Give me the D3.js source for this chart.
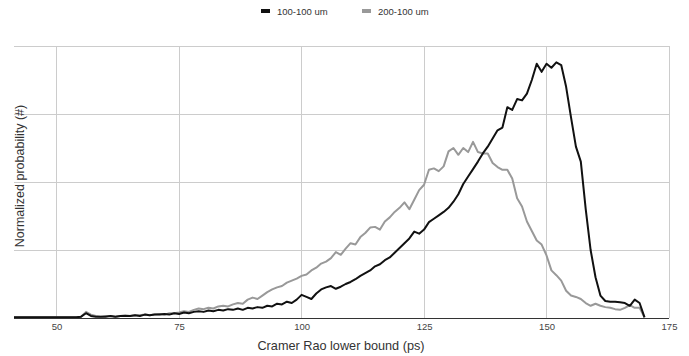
<!DOCTYPE html>
<html><head><meta charset="utf-8">
<script src="https://cdn.jsdelivr.net/npm/d3@7"></script>
<style>body{margin:0;background:#fff}svg{display:block;font-family:"Liberation Sans",Arial,sans-serif}</style>
</head><body><svg id="c" width="689" height="356"></svg>
<script>
const seriesNames = ["100-100 um", "200-100 um"];
const seriesColors = ["#111111", "#999999"];
const xStart = 41, xStep = 1;
const xTicks = [50, 75, 100, 125, 150, 175];
const yGrid = [0, 1, 2, 3, 4];
const black = [0.01,0.01,0.01,0.01,0.01,0.01,0.01,0.01,0.01,0.01,0.01,0.01,0.01,0.01,
0.02,0.07,0.03,0.02,0.02,0.02,0.03,0.02,0.03,0.03,0.03,0.04,0.03,0.05,0.04,0.05,
0.05,0.06,0.05,0.07,0.06,0.08,0.07,0.09,0.10,0.09,0.11,0.10,0.12,0.11,0.13,0.12,0.14,0.12,0.15,0.14,
0.16,0.15,0.18,0.17,0.21,0.20,0.24,0.22,0.27,0.34,0.31,0.28,0.36,0.42,0.45,0.47,0.43,0.46,0.50,0.53,
0.57,0.62,0.66,0.70,0.76,0.79,0.85,0.89,0.96,1.03,1.10,1.17,1.27,1.24,1.30,1.41,1.46,1.51,1.56,1.62,
1.71,1.82,1.97,2.08,2.19,2.30,2.42,2.52,2.64,2.76,2.80,3.10,3.06,3.22,3.20,3.30,3.50,3.74,3.62,3.74,
3.68,3.76,3.72,3.40,2.95,2.52,2.30,1.60,1.00,0.60,0.33,0.25,0.24,0.24,0.23,0.22,0.18,0.27,0.22,0.01];
const gray = [0.01,0.01,0.01,0.01,0.01,0.01,0.01,0.01,0.01,0.01,0.01,0.01,0.01,0.01,
0.02,0.09,0.05,0.03,0.02,0.03,0.03,0.02,0.03,0.04,0.03,0.04,0.04,0.05,0.04,0.05,
0.06,0.05,0.07,0.07,0.08,0.10,0.09,0.12,0.14,0.13,0.15,0.14,0.17,0.18,0.17,0.20,0.22,0.21,0.27,0.30,
0.28,0.33,0.38,0.42,0.45,0.47,0.52,0.55,0.58,0.62,0.64,0.70,0.74,0.80,0.83,0.88,0.97,0.93,1.02,1.10,
1.08,1.19,1.25,1.33,1.34,1.30,1.42,1.48,1.56,1.62,1.70,1.60,1.74,1.88,1.96,2.18,2.20,2.16,2.23,2.45,
2.50,2.40,2.50,2.44,2.59,2.44,2.42,2.42,2.28,2.22,2.18,2.18,2.05,1.76,1.64,1.42,1.28,1.14,1.08,0.92,
0.70,0.63,0.55,0.40,0.33,0.31,0.28,0.22,0.18,0.21,0.18,0.16,0.15,0.13,0.12,0.15,0.19,0.15,0.15,0.01];
const series = [black, gray];

const svg = d3.select("#c");
const x = d3.scaleLinear().domain([41.3, 175]).range([14, 669]);
const y = d3.scaleLinear().domain([0, 4]).range([318, 46]);

// horizontal grid
svg.append("g").selectAll("line").data(yGrid.slice(1)).join("line")
  .attr("x1", 14).attr("x2", 669).attr("y1", d => y(d)).attr("y2", d => y(d))
  .attr("stroke", "#cccccc").attr("stroke-width", 1).attr("shape-rendering","crispEdges");
// vertical grid
svg.append("g").selectAll("line").data(xTicks).join("line")
  .attr("x1", d => x(d)).attr("x2", d => x(d)).attr("y1", 46).attr("y2", 318)
  .attr("stroke", "#cccccc").attr("stroke-width", 1).attr("shape-rendering","crispEdges");

// x axis labels
const ax = svg.append("g").attr("transform", "translate(0,318)")
  .call(d3.axisBottom(x).tickValues(xTicks).tickSize(0).tickPadding(5));
ax.select(".domain").remove();
ax.selectAll("text").attr("font-size", "9.5px").attr("fill", "#444").attr("font-family", "Liberation Sans, Arial, sans-serif");

svg.append("defs").append("clipPath").attr("id", "clip")
  .append("rect").attr("x", 14).attr("y", 0).attr("width", 655).attr("height", 320);

const line = d3.line().x((d, i) => x(xStart + i * xStep)).y(d => y(d));
[1, 0].forEach(k => {
  svg.append("path").datum(series[k]).attr("d", line).attr("clip-path", "url(#clip)")
    .attr("fill", "none").attr("stroke", seriesColors[k]).attr("stroke-width", 2)
    .attr("stroke-linejoin", "round");
});

// baseline
svg.append("line").attr("x1", 14).attr("x2", 669).attr("y1", 318.5).attr("y2", 318.5)
  .attr("stroke", "#333").attr("stroke-width", 1);

// titles
svg.append("text").attr("x", 341).attr("y", 350).attr("text-anchor", "middle")
  .attr("font-size", "12.7px").attr("fill", "#333").text("Cramer Rao lower bound (ps)");
svg.append("text").attr("transform", "translate(24,176) rotate(-90)").attr("text-anchor", "middle")
  .attr("font-size", "12.5px").attr("fill", "#333").text("Normalized probability (#)");

// legend
const legX = [261, 362];
const lg = svg.append("g");
seriesNames.forEach((n, i) => {
  lg.append("rect").attr("x", legX[i]).attr("y", 9).attr("width", 9).attr("height", 4)
    .attr("fill", seriesColors[i]);
  lg.append("text").attr("x", legX[i] + 16).attr("y", 14.5).attr("font-size", "9.5px")
    .attr("fill", "#333").text(n);
});
</script></body></html>
